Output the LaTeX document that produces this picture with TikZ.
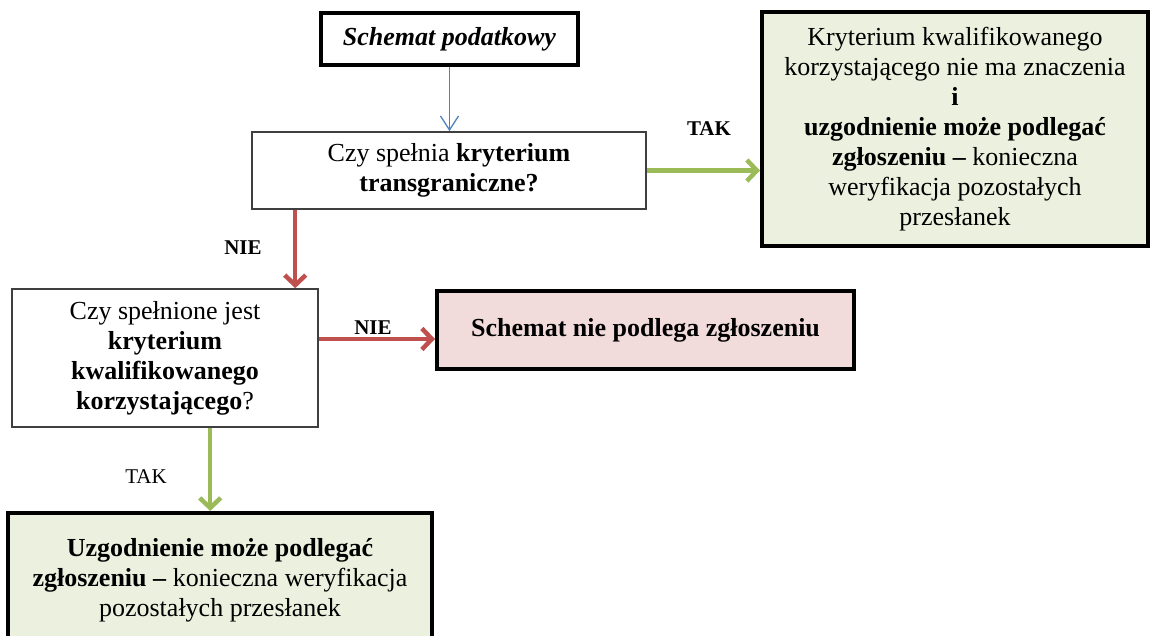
\documentclass[tikz,border=0pt]{standalone}
\usepackage{fontspec}
\setmainfont{Liberation Serif}
\definecolor{YesGreen}{HTML}{9BBB59}
\definecolor{NoRed}{HTML}{C0504D}
\definecolor{FlowBlue}{HTML}{4F81BD}
\definecolor{YesFill}{HTML}{EBF1DE}
\definecolor{NoFill}{HTML}{F2DCDB}
\definecolor{EdgeGray}{HTML}{3F3F3F}
\usepackage{tikz}
\usetikzlibrary{arrows.meta}

\begin{document}
\begin{tikzpicture}[x=1pt, y=-1pt,
  font=\fontsize{26}{30}\selectfont,
  q_box/.style={rectangle, draw=EdgeGray, line width=1.6pt, fill=white, align=center, inner sep=0pt},
  end_box/.style={rectangle, draw=black, line width=4pt, align=center, inner sep=0pt},
  yes_arr/.style={-{Straight Barb[length=10pt, width=21pt]}, line width=4.5pt, YesGreen},
  no_arr/.style={-{Straight Barb[length=10pt, width=21pt]}, line width=4.5pt, NoRed},
  lbl/.style={font=\fontsize{21}{24}\selectfont, inner sep=0pt},
]
  \path[use as bounding box, clip] (0,0) rectangle (1151,636);
  % boxes
  \node[end_box, fill=white, minimum width=257pt, minimum height=52pt] (src) at (449.5,39) {\textbf{\textit{Schemat podatkowy}}};
  \node[q_box, minimum width=394pt, minimum height=77pt] (q1) at (449,170.5) {Czy spełnia \textbf{kryterium}\\ \textbf{transgraniczne?}};
  \node[end_box, fill=YesFill, minimum width=386pt, minimum height=234pt] (yes1) at (955,129)
    {Kryterium kwalifikowanego\\ korzystającego nie ma znaczenia\\ \textbf{i}\\ \textbf{uzgodnienie może podlegać}\\ \textbf{zgłoszeniu –} konieczna\\ weryfikacja pozostałych\\ przesłanek};
  \node[q_box, minimum width=306pt, minimum height=138pt] (q2) at (165,358)
    {Czy spełnione jest\\ \textbf{kryterium}\\ \textbf{kwalifikowanego}\\ \textbf{korzystającego}?};
  \node[end_box, fill=NoFill, minimum width=417pt, minimum height=78pt] (no2) at (645.5,330) {\textbf{Schemat nie podlega zgłoszeniu}};
  \node[end_box, fill=YesFill, minimum width=424pt, minimum height=134pt] (yes2) at (220,580)
    {\textbf{Uzgodnienie może podlegać}\\ \textbf{zgłoszeniu –} konieczna weryfikacja\\ pozostałych przesłanek};
  % connectors
  \draw[-{Straight Barb[length=14pt, width=18pt]}, line width=1.3pt, FlowBlue] (src.south) -- (src.south |- q1.north);
  \draw[yes_arr] (q1.east) -- (q1.east -| yes1.west);
  \coordinate (d1) at ([xshift=44pt]q1.south west);
  \draw[no_arr] (d1) -- (d1 |- q2.north);
  \coordinate (n2) at ([yshift=-9pt]no2.west);
  \draw[no_arr] (q2.east |- n2) -- (n2);
  \coordinate (d2) at ([xshift=199pt]q2.south west);
  \draw[yes_arr] (d2) -- (d2 |- yes2.north);
  % labels
  \node[lbl] (tak1) at (709,129) {\textbf{TAK}};
  \node[lbl] (nie1) at (243,248) {\textbf{NIE}};
  \node[lbl] (nie2) at (373,328) {\textbf{NIE}};
  \node[lbl] (tak2) at (146,477) {TAK};
\end{tikzpicture}
\end{document}
